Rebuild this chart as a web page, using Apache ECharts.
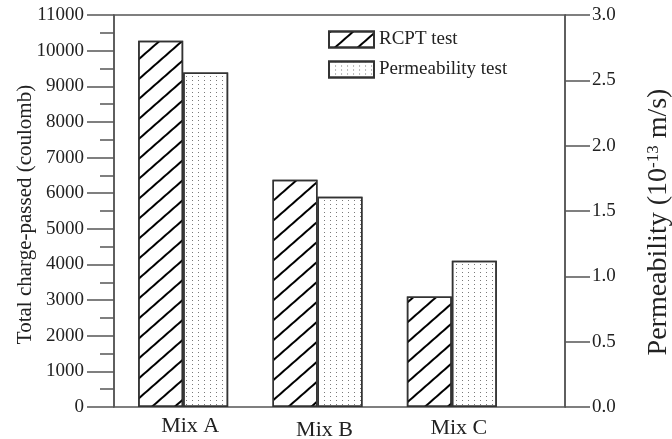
<!DOCTYPE html>
<html>
<head>
<meta charset="utf-8">
<script src="https://cdn.jsdelivr.net/npm/echarts@6/dist/echarts.min.js"></script>
<style>
  html, body { margin: 0; padding: 0; background: #fff; }
  #chart { width: 672px; height: 439px; }
</style>
</head>
<body>
<div id="chart"></div>
<script>
// Mixes tested and their results
const mixes = ['Mix A', 'Mix B', 'Mix C'];
const rcptCharge = [10280, 6380, 3100];        // total charge passed, coulomb
const permeability = [2.56, 1.61, 1.12];       // 10^-13 m/s
const seriesNames = ['RCPT test', 'Permeability test'];

const FONT = 'Liberation Serif';
const INK = '#222';
const LINE = '#555';

// diagonal hatching for the RCPT bars
const hatch = {
  symbol: 'rect',
  symbolSize: 1,
  symbolKeepAspect: false,
  color: '#000',
  backgroundColor: null,
  dashArrayX: [20, 0],
  dashArrayY: [2, 13],
  rotation: -0.72
};
// fine stipple for the permeability bars
const dots = {
  symbol: 'rect',
  symbolSize: 1,
  symbolKeepAspect: false,
  color: '#7a7a7a',
  backgroundColor: null,
  dashArrayX: [1, 5],
  dashArrayY: [1, 3],
  rotation: 0
};

const chart = echarts.init(document.getElementById('chart'), null, { renderer: 'canvas' });

chart.setOption({
  animation: false,
  backgroundColor: '#fff',
  textStyle: { fontFamily: FONT, color: INK },
  legend: {
    orient: 'vertical',
    left: 328,
    top: 30,
    padding: 0,
    itemWidth: 45,
    itemHeight: 16,
    itemGap: 11,
    icon: 'rect',
    data: seriesNames,
    textStyle: { fontFamily: FONT, fontSize: 19, color: INK, lineHeight: 16 }
  },
  grid: [
    // framed plotting box carrying both value axes
    { left: 114, right: 107, top: 15, bottom: 32, outerBoundsMode: 'none', containLabel: false,
      show: true, borderColor: LINE, borderWidth: 1.5, backgroundColor: 'transparent' },
    // band used by the grouped bars
    { left: 116, right: 153, top: 15, bottom: 32, outerBoundsMode: 'none', containLabel: false }
  ],
  xAxis: [
    { gridIndex: 0, type: 'value', show: false, min: 0, max: 1 },
    {
      gridIndex: 1,
      type: 'category',
      data: mixes,
      axisLine: { show: false },
      axisTick: { show: false },
      axisLabel: {
        interval: 0,
        margin: 8,
        fontFamily: FONT,
        fontSize: 22,
        color: INK,
        formatter: (v, i) => '{m' + i + '|' + v + '}',
        rich: {
          m0: { fontFamily: FONT, fontSize: 22, color: INK, padding: [0, 0, 0, 14] },
          m1: { fontFamily: FONT, fontSize: 22, color: INK, padding: [4, 0, 0, 14] },
          m2: { fontFamily: FONT, fontSize: 22, color: INK, padding: [2, 0, 0, 14] }
        }
      }
    }
  ],
  yAxis: [
    {
      gridIndex: 0,
      type: 'value',
      position: 'left',
      min: 0,
      max: 11000,
      interval: 1000,
      name: 'Total charge-passed (coulomb)',
      nameLocation: 'middle',
      nameRotate: 90,
      nameGap: 78,
      nameMoveOverlap: false,
      nameTextStyle: { fontFamily: FONT, fontSize: 21, color: INK, padding: [0, 7, 0, 0] },
      axisLine: { show: true, lineStyle: { color: LINE, width: 1.5 } },
      axisTick: { show: true, inside: false, length: 27, lineStyle: { color: LINE, width: 1.5 } },
      minorTick: { show: true, splitNumber: 2, length: 14, lineStyle: { color: LINE, width: 1.5 } },
      axisLabel: { margin: 30, fontFamily: FONT, fontSize: 19, color: INK, formatter: v => String(v) },
      splitLine: { show: false }
    },
    {
      gridIndex: 0,
      type: 'value',
      position: 'right',
      min: 0,
      max: 3,
      interval: 0.5,
      name: 'Permeability (10{sup|-13} m/s)',
      nameLocation: 'middle',
      nameRotate: 90,
      nameGap: 80,
      nameMoveOverlap: false,
      nameTextStyle: {
        fontFamily: FONT, fontSize: 28, color: INK, padding: [0, 22, 0, 0],
        rich: { sup: { fontFamily: FONT, fontSize: 17, color: INK, verticalAlign: 'top', padding: [0, 0, 10, 0] } }
      },
      axisLine: { show: true, lineStyle: { color: LINE, width: 1.5 } },
      axisTick: { show: true, inside: false, length: 25, lineStyle: { color: LINE, width: 1.5 } },
      axisLabel: { margin: 27, fontFamily: FONT, fontSize: 19, color: INK, formatter: v => v.toFixed(1) },
      splitLine: { show: false }
    },
    { gridIndex: 1, type: 'value', show: false, min: 0, max: 11000, splitLine: { show: false } },
    { gridIndex: 1, type: 'value', show: false, min: 0, max: 3, splitLine: { show: false } }
  ],
  series: [
    {
      name: seriesNames[0],
      type: 'bar',
      xAxisIndex: 1,
      yAxisIndex: 2,
      data: rcptCharge,
      barWidth: 45,
      barGap: '0%',
      itemStyle: { color: '#fff', borderColor: '#333', borderWidth: 1.5, decal: hatch }
    },
    {
      name: seriesNames[1],
      type: 'bar',
      xAxisIndex: 1,
      yAxisIndex: 3,
      data: permeability,
      barWidth: 45,
      barGap: '0%',
      itemStyle: { color: '#fff', borderColor: '#333', borderWidth: 1.5, decal: dots }
    }
  ]
});
</script>
</body>
</html>
